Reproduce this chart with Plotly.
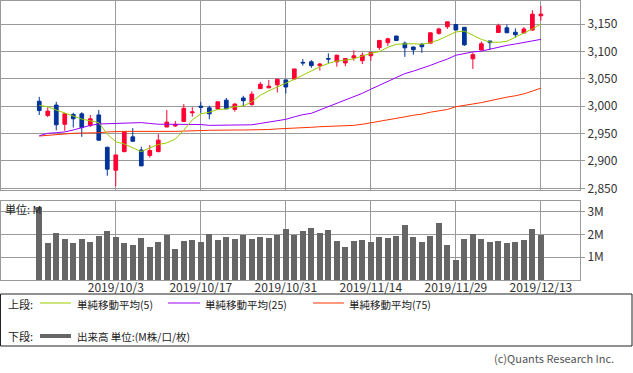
import plotly.graph_objects as go

# ---------------- data ----------------
tick_labels = ["2019/10/3", "2019/10/17", "2019/10/31", "2019/11/14", "2019/11/29", "2019/12/13"]
tick_index = [9, 19, 29, 39, 49, 59]

open_ = [3009, 2983, 3002, 2967, 2985, 2986, 2965, 2984, 2925, 2883,
         2917, 2944, 2920, 2910, 2917, 2962, 2964, 2972, 2988, 3000,
         2997, 2995, 3011, 2994, 3015, 3003, 3032, 3033.5, 3039, 3048,
         3049.5, 3080, 3081, 3074, 3087, 3081, 3079, 3088, 3083, 3092,
         3107, 3116, 3128, 3115, 3108, 3113, 3115, 3133, 3145, 3149,
         3144, 3086.5, 3102.5, 3119, 3134.5, 3143, 3135, 3133.5, 3139, 3165]
high = [3017, 2998, 3008, 2988, 2988, 2989, 2984, 2993, 2926, 2911,
        2954, 2960, 2926, 2929, 2949, 2993, 2973, 3004, 2998, 3008,
        3001, 3008, 3015, 3005, 3019, 3027, 3044, 3048, 3050, 3048,
        3068, 3086, 3084, 3079, 3096.5, 3094, 3088, 3102, 3098, 3098,
        3121, 3125, 3128.5, 3118, 3109, 3115, 3134, 3143, 3154, 3149,
        3144.5, 3098, 3118, 3119, 3150.5, 3149, 3142, 3144.5, 3175, 3183]
low = [2984, 2980, 2956, 2955, 2961, 2944, 2962, 2937, 2873, 2854,
       2916, 2935, 2891, 2906, 2916, 2962, 2962, 2971, 2981, 2988,
       2976, 2995, 2995, 2990, 3000, 3001, 3032, 3033, 3025, 3023,
       3049.5, 3074, 3070, 3065, 3078, 3072, 3073, 3083, 3077, 3083,
       3102.5, 3110, 3119.5, 3090, 3094, 3097.5, 3115, 3130.5, 3141, 3139,
       3110, 3068, 3102, 3102.5, 3134, 3134, 3125.5, 3133.5, 3137.5, 3156]
close = [2992, 2991, 2966, 2986, 2977, 2961, 2977, 2938, 2885, 2911,
         2953, 2936, 2891, 2919, 2938, 2971, 2967, 2996, 2989.5, 2998,
         2986, 3008, 2995, 3004, 3010, 3022, 3040, 3036.5, 3049, 3035,
         3068, 3079, 3074, 3077, 3086, 3093, 3087, 3092, 3093, 3098,
         3120, 3123, 3120, 3106.5, 3103, 3108.5, 3134, 3141, 3154, 3139,
         3112, 3094, 3114, 3116, 3147, 3134, 3130.5, 3141, 3168, 3168]

ma5 = [3001.5, 2999, 2993, 2988, 2982, 2976.5, 2973, 2970, 2949, 2935,
       2931, 2924, 2917, 2924, 2930, 2933, 2940, 2956, 2975, 2986,
       2989, 2994, 2995, 2999, 3000.5, 3008, 3020, 3028, 3035.5, 3042,
       3049, 3057, 3065, 3072, 3078, 3082.5, 3084, 3086.5, 3091.5, 3096.5,
       3099.5, 3107.5, 3113, 3114, 3114, 3113, 3116, 3121, 3128, 3135.5,
       3137, 3130, 3122, 3117, 3116.5, 3118.5, 3125.5, 3133, 3141, 3150]
ma25 = [2946, 2950.5, 2951.5, 2953, 2956.5, 2960.5, 2965, 2967.5, 2968, 2969,
        2970, 2970, 2970, 2968.5, 2967, 2967, 2967, 2967, 2967, 2966.5,
        2965, 2965, 2965, 2965, 2965, 2966, 2968.5, 2971, 2974, 2976,
        2980.5, 2984.5, 2987, 2993, 3000, 3005, 3011, 3017, 3023.5, 3031,
        3038, 3044.5, 3052.5, 3059.5, 3064, 3069, 3074.5, 3080.5, 3086, 3093,
        3096, 3099, 3100.5, 3104, 3108, 3111, 3113.5, 3116, 3119, 3122]
ma75 = [2945.5, 2947, 2948.5, 2949, 2950.5, 2951, 2951, 2951.5, 2953, 2954,
        2954, 2954, 2954, 2953, 2953.5, 2954, 2954, 2954.5, 2954.5, 2955.5,
        2956, 2956.5, 2956.5, 2956.5, 2956.5, 2956.5, 2957, 2957.5, 2958.5, 2959,
        2959.5, 2960, 2961.5, 2962.5, 2963, 2963.5, 2964.5, 2965, 2967, 2969.5,
        2972, 2975, 2978, 2980.5, 2983.5, 2985.5, 2989, 2991, 2994, 2999,
        3002, 3004, 3006.5, 3010, 3013.5, 3016.5, 3019, 3022.5, 3027.5, 3033]

volume_m = [3.2, 1.63, 2.07, 1.79, 1.63, 1.79, 1.67, 1.93, 2.15, 1.89,
            1.63, 1.54, 1.85, 1.45, 1.67, 1.98, 1.36, 1.71, 1.76, 1.67,
            2.02, 1.76, 1.89, 1.80, 1.98, 1.80, 1.89, 1.85, 1.98, 2.24,
            1.98, 2.14, 2.27, 2.05, 2.18, 1.70, 1.44, 1.70, 1.75, 1.66,
            1.88, 1.83, 1.92, 2.40, 1.88, 1.66, 1.92, 2.49, 1.53, 0.87,
            1.79, 2.01, 1.79, 1.66, 1.70, 1.61, 1.66, 1.75, 2.23, 1.97]

price_ticks = [2850, 2900, 2950, 3000, 3050, 3100, 3150]
vol_ticks = [1, 2, 3]
vol_tick_labels = ["1M", "2M", "3M"]

x_idx = list(range(len(close)))

# ---------------- styling / layout helpers ----------------
W, H = 633, 373
ML, MR, MT, MB = 1, 53, 1, 93
PW = W - ML - MR
PH = H - MT - MB
def px(x):
    return (x - ML) / PW
def py(y):
    return (H - MB - y) / PH

FONT = "Noto Sans CJK JP"
GRID = "#9a9a9a"
RED = "#ff0033"
BLUE = "#003399"
C5, C25, C75 = "#99cc00", "#9900ff", "#ff3300"

fig = go.Figure()

fig.add_trace(go.Candlestick(
    x=x_idx, open=open_, high=high, low=low, close=close,
    increasing=dict(line=dict(color=RED, width=1), fillcolor=RED),
    decreasing=dict(line=dict(color=BLUE, width=1), fillcolor=BLUE),
    whiskerwidth=0, hoverinfo="skip", showlegend=False,
    xaxis="x", yaxis="y"))

for vals, col in [(ma75, C75), (ma25, C25), (ma5, C5)]:
    fig.add_trace(go.Scatter(x=x_idx, y=vals, mode="lines",
                             line=dict(color=col, width=1),
                             hoverinfo="skip", showlegend=False,
                             xaxis="x", yaxis="y"))

fig.add_trace(go.Bar(x=x_idx, y=volume_m, width=0.72,
                     marker=dict(color="#666666", line=dict(width=0)),
                     hoverinfo="skip", showlegend=False,
                     xaxis="x2", yaxis="y2"))

xr = [-4.5, 63.6]
axis_common = dict(showgrid=True, gridcolor=GRID, gridwidth=1,
                   showline=True, linecolor=GRID, linewidth=1, mirror=True,
                   zeroline=False, fixedrange=True)

fig.update_layout(
    width=W, height=H,
    margin=dict(l=ML, r=MR, t=MT, b=MB),
    paper_bgcolor="white", plot_bgcolor="white",
    font=dict(family=FONT, size=12, color="#333333"),
    showlegend=False,
    boxgap=0.38,
    bargap=0,
    xaxis=dict(domain=[0, 1], anchor="y", range=xr, tickvals=tick_index,
               ticktext=tick_labels, showticklabels=False, ticks="",
               rangeslider=dict(visible=False), **axis_common),
    xaxis2=dict(domain=[0, 1], anchor="y2", range=xr, tickvals=tick_index,
                ticktext=tick_labels, showticklabels=True, ticks="",
                ticklabelstandoff=-3,
                tickfont=dict(family=FONT, size=12, color="#333333"),
                **axis_common),
    yaxis=dict(domain=[py(190), 1], anchor="x", side="right",
               range=[2847, 3192], tickvals=price_ticks, tickformat=",d",
               ticks="outside", ticklen=4, tickcolor=GRID,
               tickfont=dict(family=FONT, size=12, color="#333333"),
               **axis_common),
    yaxis2=dict(domain=[0, py(201)], anchor="x2", side="right",
                range=[0, 3.46], tickvals=vol_ticks, ticktext=vol_tick_labels,
                ticks="outside", ticklen=4, tickcolor=GRID,
                tickfont=dict(family=FONT, size=12, color="#333333"),
                **axis_common),
)

shapes = []
annots = []

# legend frame
shapes.append(dict(type="rect", xref="paper", yref="paper",
                   x0=px(0.5), x1=px(632), y0=py(294), y1=py(346),
                   line=dict(color="#222222", width=1), fillcolor="rgba(0,0,0,0)"))

def seg(x0, x1, y, col, w):
    shapes.append(dict(type="line", xref="paper", yref="paper",
                       x0=px(x0), x1=px(x1), y0=py(y), y1=py(y),
                       line=dict(color=col, width=w)))

def txt(x, y, s, anchor="left", size=11, color="#222222"):
    annots.append(dict(x=px(x), y=py(y), xref="paper", yref="paper", text=s,
                       showarrow=False, xanchor=anchor, yanchor="middle",
                       borderpad=0,
                       font=dict(family=FONT, size=size, color=color)))

txt(7, 304, "上段:")
seg(40, 71, 303, C5, 1)
txt(76, 304, "単純移動平均(5)", size=10.5)
seg(168, 200, 303, C25, 1)
txt(204, 304, "単純移動平均(25)", size=10.5)
seg(313, 344, 303, C75, 1)
txt(348, 304, "単純移動平均(75)", size=10.5)

txt(7, 336, "下段:")
seg(40, 71, 336, "#666666", 4)
txt(76, 336, "出来高 単位:(M株/口/枚)", size=10.5)

txt(615, 358, "(c)Quants Research Inc.", anchor="right", size=11, color="#555555")
txt(4, 209, "単位: M", size=11, color="#222222")

fig.update_layout(shapes=shapes, annotations=annots)

fig.write_html("out.html", config={"displayModeBar": False, "staticPlot": True},
               post_script="document.body.style.margin='0';document.body.style.padding='0';")
